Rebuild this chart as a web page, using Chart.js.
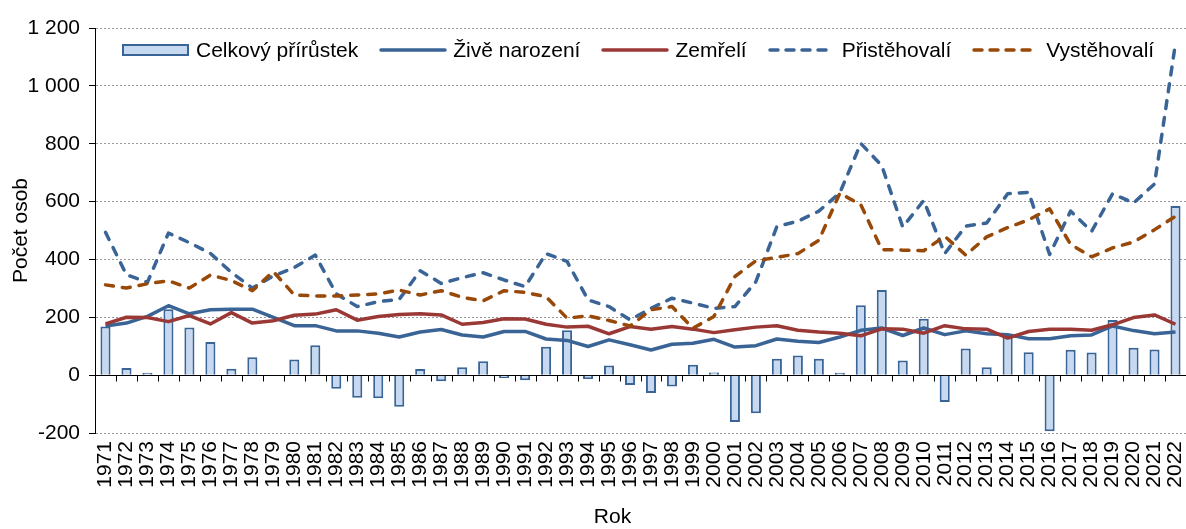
<!DOCTYPE html>
<html><head><meta charset="utf-8">
<script src="https://cdn.jsdelivr.net/npm/chart.js@4.4.1/dist/chart.umd.min.js"></script>
<style>
html,body{margin:0;padding:0;background:#fff;}
#wrap{position:relative;width:1186px;height:529px;}
#legend{position:absolute;left:122px;top:38px;height:24px;display:flex;align-items:center;font-family:"Liberation Sans",Arial,sans-serif;font-size:21px;color:#000;white-space:nowrap;}
.item{display:flex;align-items:center;margin-right:21px;}
.item svg{margin-right:7px;display:block;}
.item.line svg{margin-right:6px;}
</style></head><body>
<div id="wrap"><canvas id="c" width="1186" height="529"></canvas><div id="legend"></div></div>
<script>
const years = ["1971","1972","1973","1974","1975","1976","1977","1978","1979","1980",
  "1981","1982","1983","1984","1985","1986","1987","1988","1989","1990",
  "1991","1992","1993","1994","1995","1996","1997","1998","1999","2000",
  "2001","2002","2003","2004","2005","2006","2007","2008","2009","2010",
  "2011","2012","2013","2014","2015","2016","2017","2018","2019","2020",
  "2021","2022"];

const celkovyPrirustek = [168,25,8,228,165,115,22,62,-3,54,
  103,-47,-78,-80,-109,21,-21,27,48,-10,
  -18,98,155,-13,33,-34,-62,-39,36,9,
  -162,-132,57,68,57,8,242,294,51,195,
  -93,92,27,142,79,-194,88,78,191,95,
  89,585];

const zive = [170,180,203,240,212,226,228,228,200,171,
  171,153,153,145,132,149,158,139,132,151,
  151,125,120,99,122,105,87,107,110,124,
  97,102,125,117,113,132,155,163,137,163,
  140,153,143,140,126,126,136,139,170,154,
  143,149];

const zemreli = [177,200,199,185,206,177,216,180,188,207,
  211,226,190,203,210,212,208,176,182,195,
  194,176,166,169,143,168,159,168,159,147,
  157,166,171,155,149,145,136,160,159,145,
  171,160,159,128,151,159,159,155,174,199,
  208,176];

const pristehovali = [494,347,321,491,458,421,355,301,343,372,
  415,281,237,254,262,361,317,337,354,329,
  306,420,393,260,237,191,231,266,249,231,
  237,323,514,532,567,630,801,724,512,604,
  420,515,526,627,632,417,567,497,627,595,
  661,1148];

const vystehovali = [312,301,316,326,301,346,327,292,358,277,
  274,274,277,281,294,277,292,269,257,292,
  286,271,197,205,189,170,226,237,162,203,
  341,395,407,420,466,629,589,434,432,430,
  480,415,478,510,537,575,452,409,440,460,
  503,549];

const yTickValues = [-200, 0, 200, 400, 600, 800, 1000, 1200];
const xTitle = 'Rok';
const yTitle = 'Počet osob';

const BLUE = '#3a6496', RED = '#9a3836', ORANGE = '#984807', BARFILL = '#c6d9f1';
const FONT = '"Liberation Sans", Arial, sans-serif';
Chart.defaults.font.family = FONT;
Chart.defaults.font.size = 21;
Chart.defaults.color = '#000';

const fmt = v => String(v).replace(/\B(?=(\d{3})+(?!\d))/g, ' ');

const zeroTicks = {
  id: 'zeroTicks',
  beforeDatasetsDraw(chart) {
    const {ctx, scales: {x, y}} = chart;
    const y0 = Math.round(y.getPixelForValue(0)) + 0.5;
    ctx.save();
    ctx.strokeStyle = '#000';
    ctx.lineWidth = 1;
    ctx.beginPath();
    for (let i = 0; i <= years.length; i++) {
      const px = Math.round(x.getPixelForValue(i - 0.5)) + 0.5;
      ctx.moveTo(px, y0);
      ctx.lineTo(px, y0 + 6);
    }
    ctx.stroke();
    ctx.restore();
  }
};

// x-axis title, placed slightly left of the plot centre as in the original
const xAxisTitle = {
  id: 'xAxisTitle',
  afterDraw(chart) {
    const {ctx, chartArea} = chart;
    ctx.save();
    ctx.font = '21px ' + FONT;
    ctx.fillStyle = '#000';
    ctx.textAlign = 'center';
    ctx.textBaseline = 'middle';
    ctx.fillText(xTitle, (chartArea.left + chartArea.right) / 2 - 28, chart.height - 12);
    ctx.restore();
  }
};

const lineBase = {type: 'line', borderWidth: 3.5, pointRadius: 0, pointHoverRadius: 0, tension: 0, fill: false, borderJoinStyle: 'round'};

const chart = new Chart(document.getElementById('c'), {
  data: {
    labels: years,
    datasets: [
      {type: 'bar', label: 'Celkový přírůstek', data: celkovyPrirustek, backgroundColor: BARFILL, borderColor: BLUE, borderWidth: 2, categoryPercentage: 1, barPercentage: 0.48, order: 5},
      Object.assign({}, lineBase, {label: 'Živě narození', data: zive, borderColor: BLUE, backgroundColor: BLUE, order: 4}),
      Object.assign({}, lineBase, {label: 'Zemřelí', data: zemreli, borderColor: RED, backgroundColor: RED, order: 3}),
      Object.assign({}, lineBase, {label: 'Přistěhovalí', data: pristehovali, borderColor: BLUE, backgroundColor: BLUE, borderDash: [8, 9], borderCapStyle: 'round', order: 2}),
      Object.assign({}, lineBase, {label: 'Vystěhovalí', data: vystehovali, borderColor: ORANGE, backgroundColor: ORANGE, borderDash: [8, 9], borderCapStyle: 'round', order: 1})
    ]
  },
  options: {
    responsive: false,
    animation: false,
    devicePixelRatio: 1,
    layout: {padding: {top: 28, right: 0, bottom: 0, left: 0}},
    plugins: {legend: {display: false}, tooltip: {enabled: false}},
    scales: {
      x: {
        type: 'category',
        offset: true,
        grid: {display: false, drawTicks: false},
        border: {display: false},
        ticks: {autoSkip: false, minRotation: 90, maxRotation: 90, padding: 8, font: {size: 21}, color: '#000'},
        title: {display: false},
        afterFit: s => { s.height = 96; s.paddingLeft = 0; s.paddingRight = 0; }
      },
      y: {
        min: -200, max: 1200,
        afterBuildTicks: s => { s.ticks = yTickValues.map(v => ({value: v})); },
        ticks: {callback: v => fmt(v), padding: 9, font: {size: 21}, color: '#000'},
        grid: {
          color: c => (c.tick && c.tick.value === 0) ? '#000' : '#999',
          lineWidth: 1, tickColor: '#000', tickLength: 6, drawTicks: true
        },
        border: {display: true, color: '#000', width: 1, dash: c => (c.tick && c.tick.value === 0) ? [] : [2, 2]},
        title: {display: true, text: yTitle, padding: {top: 9, bottom: 0}, font: {size: 21}, color: '#000'},
        afterFit: s => { s.width = 95; }
      }
    }
  },
  plugins: [zeroTicks, xAxisTitle]
});

// HTML legend built from the chart's datasets
const legendEl = document.getElementById('legend');
const NS = 'http://www.w3.org/2000/svg';
chart.data.datasets.forEach(ds => {
  const item = document.createElement('div');
  item.className = 'item' + (ds.type === 'bar' ? '' : ' line');
  const svg = document.createElementNS(NS, 'svg');
  if (ds.type === 'bar') {
    svg.setAttribute('width', '67'); svg.setAttribute('height', '12');
    const r = document.createElementNS(NS, 'rect');
    r.setAttribute('x', '1'); r.setAttribute('y', '1'); r.setAttribute('width', '65'); r.setAttribute('height', '10');
    r.setAttribute('fill', ds.backgroundColor); r.setAttribute('stroke', ds.borderColor); r.setAttribute('stroke-width', '2');
    svg.appendChild(r);
  } else {
    svg.setAttribute('width', '68'); svg.setAttribute('height', '12');
    const l = document.createElementNS(NS, 'line');
    l.setAttribute('x1', '2'); l.setAttribute('x2', '66'); l.setAttribute('y1', '6'); l.setAttribute('y2', '6');
    l.setAttribute('stroke', ds.borderColor); l.setAttribute('stroke-width', '3.5'); l.setAttribute('stroke-linecap', 'round');
    if (ds.borderDash) l.setAttribute('stroke-dasharray', '8 8');
    svg.appendChild(l);
  }
  const t = document.createElement('span');
  t.textContent = ds.label;
  item.appendChild(svg);
  item.appendChild(t);
  legendEl.appendChild(item);
});
</script>
</body></html>
